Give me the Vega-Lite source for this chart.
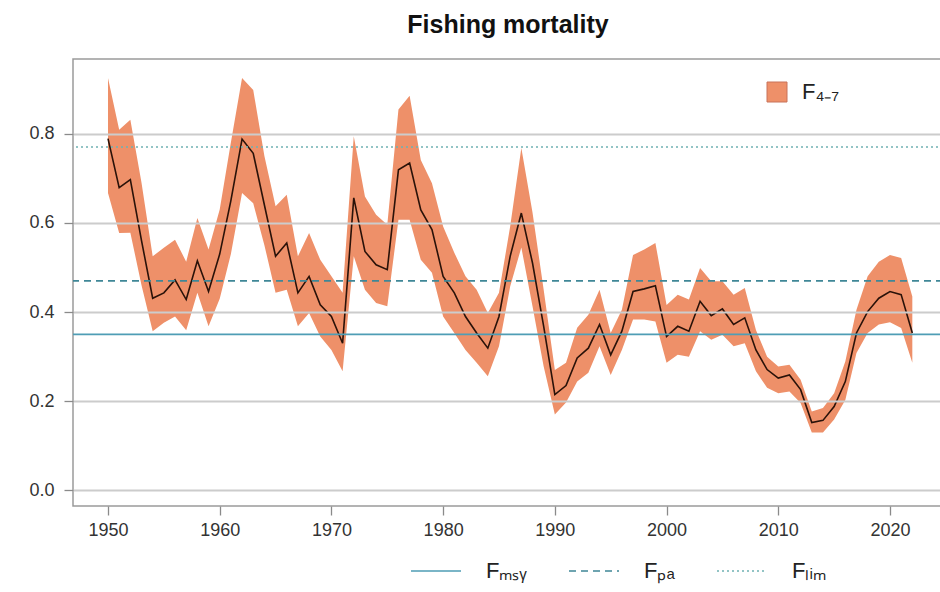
{
  "$schema": "https://vega.github.io/schema/vega-lite/v6.json",
  "width": 870,
  "height": 447,
  "autosize": {"type": "none"},
  "padding": {"left": 73, "top": 59, "right": 0, "bottom": 86},
  "background": "white",
  "title": {
    "text": "Fishing mortality",
    "font": "Liberation Sans",
    "fontSize": 25,
    "fontWeight": "bold",
    "color": "#111111",
    "anchor": "middle",
    "frame": "group",
    "baseline": "alphabetic",
    "offset": 1
  },
  "config": {
    "view": {"stroke": "#9a9a9a", "strokeWidth": 1.5},
    "axis": {
      "labelFont": "Liberation Sans",
      "labelFontSize": 18,
      "labelColor": "#333333",
      "tickColor": "#8a8a8a",
      "tickSize": 9,
      "tickWidth": 1.3,
      "domain": false,
      "title": null
    },
    "legend": {
      "labelFont": "Liberation Sans",
      "labelColor": "#222222",
      "title": null
    }
  },
  "datasets": {
    "fmort": [
      {"year": 1950, "f": 0.789, "lo": 0.667, "hi": 0.925},
      {"year": 1951, "f": 0.679, "lo": 0.577, "hi": 0.809},
      {"year": 1952, "f": 0.697, "lo": 0.578, "hi": 0.831},
      {"year": 1953, "f": 0.56, "lo": 0.46, "hi": 0.69},
      {"year": 1954, "f": 0.431, "lo": 0.357, "hi": 0.525},
      {"year": 1955, "f": 0.443, "lo": 0.376, "hi": 0.544},
      {"year": 1956, "f": 0.472, "lo": 0.39, "hi": 0.562},
      {"year": 1957, "f": 0.428, "lo": 0.359, "hi": 0.513},
      {"year": 1958, "f": 0.515, "lo": 0.443, "hi": 0.611},
      {"year": 1959, "f": 0.446, "lo": 0.368, "hi": 0.54},
      {"year": 1960, "f": 0.53, "lo": 0.43, "hi": 0.63},
      {"year": 1961, "f": 0.65, "lo": 0.53, "hi": 0.78},
      {"year": 1962, "f": 0.788, "lo": 0.667, "hi": 0.925},
      {"year": 1963, "f": 0.756, "lo": 0.644, "hi": 0.898},
      {"year": 1964, "f": 0.64, "lo": 0.55, "hi": 0.75},
      {"year": 1965, "f": 0.525, "lo": 0.443, "hi": 0.637},
      {"year": 1966, "f": 0.555, "lo": 0.45, "hi": 0.663},
      {"year": 1967, "f": 0.443, "lo": 0.368, "hi": 0.525},
      {"year": 1968, "f": 0.48, "lo": 0.398, "hi": 0.577},
      {"year": 1969, "f": 0.416, "lo": 0.345, "hi": 0.517},
      {"year": 1970, "f": 0.39, "lo": 0.315, "hi": 0.48},
      {"year": 1971, "f": 0.33, "lo": 0.267, "hi": 0.443},
      {"year": 1972, "f": 0.656, "lo": 0.525, "hi": 0.794},
      {"year": 1973, "f": 0.536, "lo": 0.45, "hi": 0.659},
      {"year": 1974, "f": 0.506, "lo": 0.42, "hi": 0.618},
      {"year": 1975, "f": 0.495, "lo": 0.413, "hi": 0.596},
      {"year": 1976, "f": 0.719, "lo": 0.607, "hi": 0.854},
      {"year": 1977, "f": 0.734, "lo": 0.607, "hi": 0.885},
      {"year": 1978, "f": 0.629, "lo": 0.517, "hi": 0.741},
      {"year": 1979, "f": 0.585, "lo": 0.488, "hi": 0.689},
      {"year": 1980, "f": 0.48, "lo": 0.39, "hi": 0.592},
      {"year": 1981, "f": 0.443, "lo": 0.353, "hi": 0.533},
      {"year": 1982, "f": 0.39, "lo": 0.315, "hi": 0.48},
      {"year": 1983, "f": 0.353, "lo": 0.286, "hi": 0.45},
      {"year": 1984, "f": 0.319, "lo": 0.256, "hi": 0.398},
      {"year": 1985, "f": 0.39, "lo": 0.323, "hi": 0.443},
      {"year": 1986, "f": 0.525, "lo": 0.457, "hi": 0.592},
      {"year": 1987, "f": 0.622, "lo": 0.545, "hi": 0.768},
      {"year": 1988, "f": 0.51, "lo": 0.413, "hi": 0.623},
      {"year": 1989, "f": 0.368, "lo": 0.278, "hi": 0.45},
      {"year": 1990, "f": 0.215, "lo": 0.17, "hi": 0.27},
      {"year": 1991, "f": 0.235, "lo": 0.197, "hi": 0.286},
      {"year": 1992, "f": 0.297, "lo": 0.244, "hi": 0.365},
      {"year": 1993, "f": 0.319, "lo": 0.264, "hi": 0.394},
      {"year": 1994, "f": 0.372, "lo": 0.323, "hi": 0.45},
      {"year": 1995, "f": 0.304, "lo": 0.259, "hi": 0.353},
      {"year": 1996, "f": 0.357, "lo": 0.315, "hi": 0.405},
      {"year": 1997, "f": 0.446, "lo": 0.383, "hi": 0.528},
      {"year": 1998, "f": 0.452, "lo": 0.383, "hi": 0.54},
      {"year": 1999, "f": 0.459, "lo": 0.379, "hi": 0.555},
      {"year": 2000, "f": 0.345, "lo": 0.286, "hi": 0.416},
      {"year": 2001, "f": 0.368, "lo": 0.304, "hi": 0.439},
      {"year": 2002, "f": 0.357, "lo": 0.3, "hi": 0.428},
      {"year": 2003, "f": 0.424, "lo": 0.357, "hi": 0.499},
      {"year": 2004, "f": 0.392, "lo": 0.338, "hi": 0.469},
      {"year": 2005, "f": 0.407, "lo": 0.349, "hi": 0.469},
      {"year": 2006, "f": 0.372, "lo": 0.323, "hi": 0.439},
      {"year": 2007, "f": 0.387, "lo": 0.33, "hi": 0.454},
      {"year": 2008, "f": 0.315, "lo": 0.267, "hi": 0.36},
      {"year": 2009, "f": 0.271, "lo": 0.23, "hi": 0.3},
      {"year": 2010, "f": 0.252, "lo": 0.218, "hi": 0.278},
      {"year": 2011, "f": 0.259, "lo": 0.222, "hi": 0.282},
      {"year": 2012, "f": 0.226, "lo": 0.196, "hi": 0.248},
      {"year": 2013, "f": 0.152, "lo": 0.13, "hi": 0.177},
      {"year": 2014, "f": 0.157, "lo": 0.13, "hi": 0.185},
      {"year": 2015, "f": 0.188, "lo": 0.159, "hi": 0.218},
      {"year": 2016, "f": 0.244, "lo": 0.203, "hi": 0.289},
      {"year": 2017, "f": 0.353, "lo": 0.308, "hi": 0.405},
      {"year": 2018, "f": 0.401, "lo": 0.353, "hi": 0.48},
      {"year": 2019, "f": 0.431, "lo": 0.372, "hi": 0.513},
      {"year": 2020, "f": 0.446, "lo": 0.377, "hi": 0.528},
      {"year": 2021, "f": 0.439, "lo": 0.364, "hi": 0.521},
      {"year": 2022, "f": 0.353, "lo": 0.286, "hi": 0.435}
    ],
    "refs": [
      {"ref": "Fₘₛᵧ", "value": 0.35},
      {"ref": "Fₚₐ", "value": 0.47},
      {"ref": "Fₗᵢₘ", "value": 0.77}
    ]
  },
  "layer": [
    {
      "data": {"name": "fmort"},
      "mark": {"type": "area", "opacity": 1},
      "encoding": {
        "x": {
          "field": "year",
          "type": "quantitative",
          "scale": {"domain": [1946.867, 2024.746], "nice": false, "zero": false},
          "axis": {
            "values": [1950, 1960, 1970, 1980, 1990, 2000, 2010, 2020],
            "format": "d",
            "grid": false,
            "labelPadding": 6
          }
        },
        "y": {
          "field": "lo",
          "type": "quantitative",
          "scale": {"domain": [-0.035, 0.9675], "nice": false, "zero": false},
          "axis": {
            "values": [0, 0.2, 0.4, 0.6, 0.8],
            "format": ".1f",
            "grid": true,
            "gridColor": "#cccccc",
            "gridWidth": 2,
            "zindex": 1,
            "labelPadding": 10
          }
        },
        "y2": {"field": "hi"},
        "fill": {
          "datum": "F₄₋₇",
          "scale": {"range": ["#EE9069"]},
          "legend": {
            "orient": "none",
            "legendX": 693,
            "legendY": 22,
            "symbolType": "square",
            "symbolSize": 400,
            "symbolStrokeColor": "#c8725a",
            "symbolStrokeWidth": 1,
            "labelFontSize": 22,
            "labelOffset": 14
          }
        }
      }
    },
    {
      "data": {"name": "fmort"},
      "mark": {"type": "line", "color": "#2a1209", "strokeWidth": 1.6},
      "encoding": {
        "x": {"field": "year", "type": "quantitative"},
        "y": {"field": "f", "type": "quantitative"}
      }
    },
    {
      "data": {"name": "refs"},
      "mark": {"type": "rule", "strokeWidth": 1.6},
      "encoding": {
        "y": {"field": "value", "type": "quantitative"},
        "stroke": {
          "field": "ref",
          "type": "nominal",
          "sort": ["Fₘₛᵧ", "Fₚₐ", "Fₗᵢₘ"],
          "scale": {"domain": ["Fₘₛᵧ", "Fₚₐ", "Fₗᵢₘ"], "range": ["#4f9db5", "#3f8797", "#6fb1b3"]},
          "legend": {
            "orient": "none",
            "direction": "horizontal",
            "legendX": 337,
            "legendY": 486,
            "symbolType": "stroke",
            "symbolSize": 2500,
            "symbolStrokeWidth": 1.6,
            "labelFontSize": 22,
            "labelOffset": 24,
            "columnPadding": 38
          }
        },
        "strokeDash": {
          "field": "ref",
          "type": "nominal",
          "sort": ["Fₘₛᵧ", "Fₚₐ", "Fₗᵢₘ"],
          "scale": {"domain": ["Fₘₛᵧ", "Fₚₐ", "Fₗᵢₘ"], "range": [[1, 0], [7, 5], [2, 3]]}
        }
      }
    }
  ]
}
